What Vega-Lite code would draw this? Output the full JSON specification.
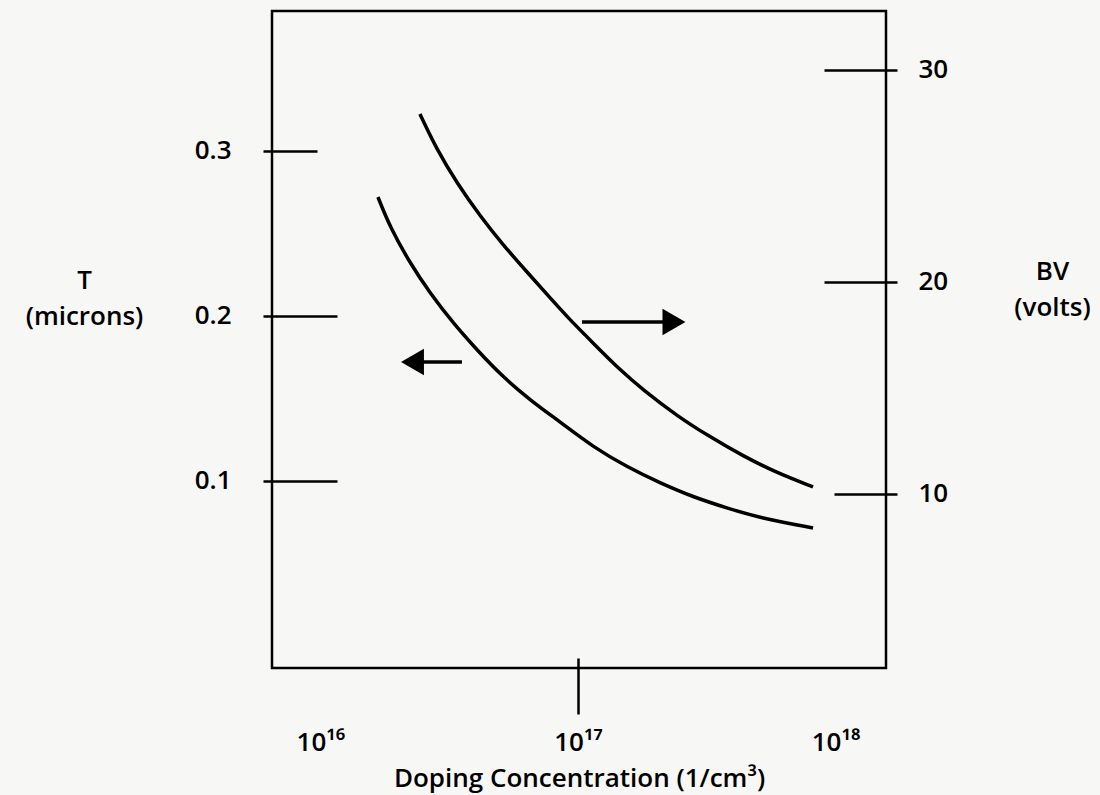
{
  "$schema": "https://vega.github.io/schema/vega-lite/v6.json",
  "width": 614,
  "height": 657,
  "autosize": {"type": "none"},
  "padding": {"left": 272, "top": 11, "right": 214, "bottom": 127},
  "background": "#f7f7f5",
  "config": {
    "view": {"stroke": "black", "strokeWidth": 2.5},
    "axis": {
      "domain": false,
      "grid": false,
      "labelFont": "Open Sans",
      "titleFont": "Open Sans",
      "labelFontSize": 26,
      "titleFontSize": 26,
      "labelFontWeight": 600,
      "titleFontWeight": 600,
      "labelColor": "black",
      "titleColor": "black",
      "tickColor": "black",
      "tickWidth": 2.5
    }
  },
  "datasets": {
    "thickness": [
      {"n": 1.672e16, "t": 0.2721},
      {"n": 1.862e16, "t": 0.2539},
      {"n": 2.226e16, "t": 0.2321},
      {"n": 2.662e16, "t": 0.2139},
      {"n": 3.270e16, "t": 0.1958},
      {"n": 4.054e16, "t": 0.1794},
      {"n": 5.113e16, "t": 0.1630},
      {"n": 6.511e16, "t": 0.1491},
      {"n": 8.514e16, "t": 0.1358},
      {"n": 1.144e17, "t": 0.1206},
      {"n": 1.550e17, "t": 0.1085},
      {"n": 2.082e17, "t": 0.0988},
      {"n": 2.797e17, "t": 0.0903},
      {"n": 3.790e17, "t": 0.0836},
      {"n": 5.090e17, "t": 0.0776},
      {"n": 8.177e17, "t": 0.0715}
    ],
    "breakdown": [
      {"n": 2.434e16, "bv": 27.92},
      {"n": 2.834e16, "bv": 26.23},
      {"n": 3.389e16, "bv": 24.67},
      {"n": 4.164e16, "bv": 23.11},
      {"n": 5.114e16, "bv": 21.75},
      {"n": 6.338e16, "bv": 20.47},
      {"n": 7.787e16, "bv": 19.25},
      {"n": 9.309e16, "bv": 18.21},
      {"n": 1.164e17, "bv": 17.03},
      {"n": 1.456e17, "bv": 15.85},
      {"n": 1.788e17, "bv": 14.91},
      {"n": 2.424e17, "bv": 13.68},
      {"n": 3.255e17, "bv": 12.69},
      {"n": 4.373e17, "bv": 11.79},
      {"n": 5.927e17, "bv": 10.99},
      {"n": 8.177e17, "bv": 10.33}
    ],
    "arrowT": [{"from": 3.544e16, "to": 2.277e16, "t": 0.1721}],
    "arrowBV": [{"from": 1.036e17, "to": 2.359e17, "bv": 18.11}]
  },
  "layer": [
    {
      "layer": [
        {
          "data": {"name": "thickness"},
          "mark": {"type": "line", "color": "black", "strokeWidth": 3.5, "interpolate": "basis"},
          "encoding": {
            "x": {
              "field": "n", "type": "quantitative",
              "scale": {"type": "log", "domain": [6.486e15, 1.57e18], "nice": false},
              "axis": {
                "values": [1e16, 1e17, 1e18],
                "offset": 46,
                "tickSize": -56,
                "tickOpacity": {"condition": {"test": "datum.value == 1e17", "value": 1}, "value": 0},
                "labelExpr": "datum.value == 1e16 ? '10¹⁶' : datum.value == 1e17 ? '10¹⁷' : '10¹⁸'",
                "labelPadding": 71,
                "title": "Doping Concentration (1/cm³)",
                "titlePadding": 10
              }
            },
            "y": {
              "field": "t", "type": "quantitative",
              "scale": {"domain": [-0.01333, 0.3848], "nice": false, "zero": false},
              "axis": {
                "values": [0.1, 0.2, 0.3],
                "format": ".1f",
                "offset": 9,
                "tickSize": {"condition": {"test": "datum.value > 0.25", "value": -54}, "value": -74},
                "labelPadding": {"condition": {"test": "datum.value > 0.25", "value": 86}, "value": 106},
                "title": ["T", "(microns)"],
                "titleAngle": 0,
                "titleAlign": "center",
                "titleBaseline": "top",
                "titleX": -179,
                "titleY": 256,
                "titleLineHeight": 36
              }
            }
          }
        },
        {
          "data": {"name": "arrowT"},
          "mark": {"type": "rule", "color": "black", "strokeWidth": 3.5},
          "encoding": {
            "x": {"field": "from", "type": "quantitative", "scale": {"type": "log", "domain": [6.486e15, 1.57e18], "nice": false}},
            "x2": {"field": "to"},
            "y": {"field": "t", "type": "quantitative", "scale": {"domain": [-0.01333, 0.3848], "nice": false, "zero": false}}
          }
        },
        {
          "data": {"name": "arrowT"},
          "mark": {"type": "point", "shape": "triangle-left", "filled": true, "color": "black", "opacity": 1, "size": 700},
          "encoding": {
            "x": {"field": "to", "type": "quantitative", "scale": {"type": "log", "domain": [6.486e15, 1.57e18], "nice": false}},
            "y": {"field": "t", "type": "quantitative", "scale": {"domain": [-0.01333, 0.3848], "nice": false, "zero": false}}
          }
        }
      ]
    },
    {
      "layer": [
        {
          "data": {"name": "breakdown"},
          "mark": {"type": "line", "color": "black", "strokeWidth": 3.5, "interpolate": "basis"},
          "encoding": {
            "x": {"field": "n", "type": "quantitative", "scale": {"type": "log", "domain": [6.486e15, 1.57e18], "nice": false}},
            "y": {
              "field": "bv", "type": "quantitative",
              "scale": {"domain": [1.79, 32.78], "nice": false, "zero": false},
              "axis": {
                "orient": "right",
                "values": [10, 20, 30],
                "format": "d",
                "offset": 11,
                "tickSize": {"condition": {"test": "datum.value < 15", "value": -63}, "value": -73},
                "labelPadding": {"condition": {"test": "datum.value < 15", "value": 84}, "value": 94},
                "title": ["BV", "(volts)"],
                "titleAngle": 0,
                "titleAlign": "center",
                "titleBaseline": "top",
                "titleX": 155,
                "titleY": 247,
                "titleLineHeight": 36
              }
            }
          }
        },
        {
          "data": {"name": "arrowBV"},
          "mark": {"type": "rule", "color": "black", "strokeWidth": 3.5},
          "encoding": {
            "x": {"field": "from", "type": "quantitative", "scale": {"type": "log", "domain": [6.486e15, 1.57e18], "nice": false}},
            "x2": {"field": "to"},
            "y": {"field": "bv", "type": "quantitative", "scale": {"domain": [1.79, 32.78], "nice": false, "zero": false}}
          }
        },
        {
          "data": {"name": "arrowBV"},
          "mark": {"type": "point", "shape": "triangle-right", "filled": true, "color": "black", "opacity": 1, "size": 700},
          "encoding": {
            "x": {"field": "to", "type": "quantitative", "scale": {"type": "log", "domain": [6.486e15, 1.57e18], "nice": false}},
            "y": {"field": "bv", "type": "quantitative", "scale": {"domain": [1.79, 32.78], "nice": false, "zero": false}}
          }
        }
      ]
    }
  ],
  "resolve": {"scale": {"y": "independent"}}
}
